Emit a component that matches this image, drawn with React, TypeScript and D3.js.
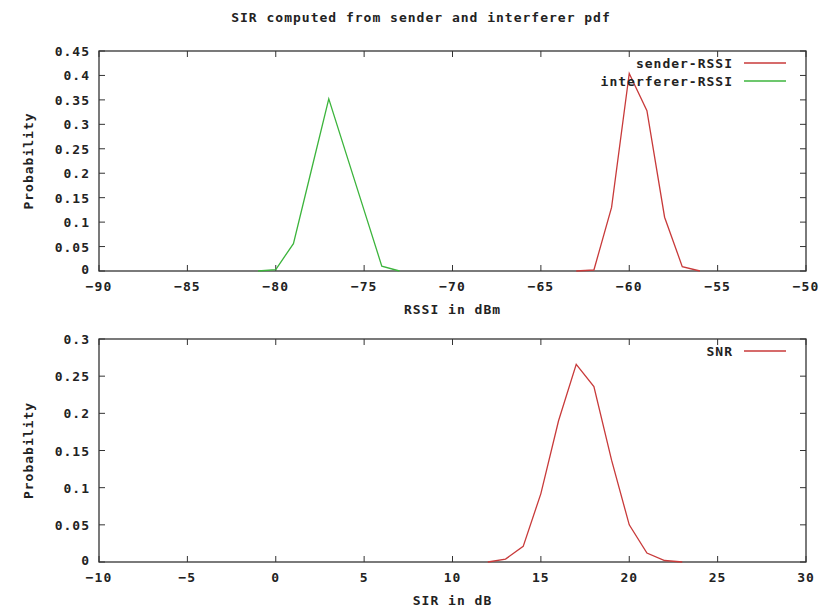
import React, { useRef, useEffect } from 'react'
import * as d3 from 'd3'

// RSSI pdfs (top panel)
const senderRssi = [-63, -62, -61, -60, -59, -58, -57, -56]
const senderProb = [0, 0.002, 0.13, 0.404, 0.328, 0.11, 0.009, 0]
const interfRssi = [-81, -80, -79, -78, -77, -76, -75, -74, -73]
const interfProb = [0, 0.003, 0.056, 0.204, 0.352, 0.238, 0.124, 0.01, 0]

// SIR pdf (bottom panel)
const sirDb = [12, 13, 14, 15, 16, 17, 18, 19, 20, 21, 22, 23]
const sirProb = [0, 0.004, 0.021, 0.092, 0.19, 0.266, 0.236, 0.137, 0.05, 0.012, 0.002, 0]

const rssiTicks = [-90, -85, -80, -75, -70, -65, -60, -55, -50]
const topProbTicks = [0, 0.05, 0.1, 0.15, 0.2, 0.25, 0.3, 0.35, 0.4, 0.45]
const sirTicks = [-10, -5, 0, 5, 10, 15, 20, 25, 30]
const bottomProbTicks = [0, 0.05, 0.1, 0.15, 0.2, 0.25, 0.3]

const RED = '#c83a3a'
const GREEN = '#3cb43c'
const FONT = '"DejaVu Sans Mono", monospace'

export default function App() {
  const ref = useRef<SVGSVGElement>(null)

  useEffect(() => {
    const svg = d3.select(ref.current)
    svg.selectAll('*').remove()

    const txt = (sel: any) =>
      sel
        .attr('font-family', FONT)
        .attr('font-weight', 'bold')
        .attr('font-size', 13)
        .attr('letter-spacing', 1)
        .attr('fill', '#222')

    svg
      .append('text')
      .attr('x', 421)
      .attr('y', 22)
      .attr('text-anchor', 'middle')
      .text('SIR computed from sender and interferer pdf')
      .call(txt)

    const panel = (opts: any) => {
      const { x0, x1, y0, y1, xDomain, yDomain, xTicks, yTicks, xLabel, series } = opts
      const x = d3.scaleLinear().domain(xDomain).range([x0, x1])
      const y = d3.scaleLinear().domain(yDomain).range([y1, y0])
      const g = svg.append('g')

      // ticks on all four sides, pointing inward
      xTicks.forEach((t: number) => {
        g.append('line').attr('x1', x(t)).attr('x2', x(t)).attr('y1', y1).attr('y2', y1 - 6).attr('stroke', '#333')
        g.append('line').attr('x1', x(t)).attr('x2', x(t)).attr('y1', y0).attr('y2', y0 + 6).attr('stroke', '#333')
        g.append('text')
          .attr('x', x(t))
          .attr('y', y1 + 20)
          .attr('text-anchor', 'middle')
          .text(d3.format('d')(t))
          .call(txt)
      })
      yTicks.forEach((t: number) => {
        g.append('line').attr('x1', x0).attr('x2', x0 + 6).attr('y1', y(t)).attr('y2', y(t)).attr('stroke', '#333')
        g.append('line').attr('x1', x1).attr('x2', x1 - 6).attr('y1', y(t)).attr('y2', y(t)).attr('stroke', '#333')
        g.append('text')
          .attr('x', x0 - 9)
          .attr('y', y(t) + (t === 0 ? 3 : 5))
          .attr('text-anchor', 'end')
          .text(String(t))
          .call(txt)
      })

      g.append('rect')
        .attr('x', x0)
        .attr('y', y0)
        .attr('width', x1 - x0)
        .attr('height', y1 - y0)
        .attr('fill', 'none')
        .attr('stroke', '#333')
        .attr('stroke-width', 1.3)

      g.append('text')
        .attr('transform', `translate(33,${(y0 + y1) / 2}) rotate(-90)`)
        .attr('text-anchor', 'middle')
        .text('Probability')
        .call(txt)

      g.append('text')
        .attr('x', (x0 + x1) / 2)
        .attr('y', y1 + 43)
        .attr('text-anchor', 'middle')
        .text(xLabel)
        .call(txt)

      const line = d3
        .line<[number, number]>()
        .x((d) => x(d[0]))
        .y((d) => y(d[1]))

      series.forEach((s: any, i: number) => {
        const pts = s.xs.map((v: number, j: number) => [v, s.ys[j]] as [number, number])
        g.append('path')
          .datum(pts)
          .attr('fill', 'none')
          .attr('stroke', s.color)
          .attr('stroke-width', 1.3)
          .attr('d', line)

        const ly = y0 + 12 + i * 18
        g.append('text')
          .attr('x', 733)
          .attr('y', ly + 5)
          .attr('text-anchor', 'end')
          .text(s.name)
          .call(txt)
        g.append('line')
          .attr('x1', 744)
          .attr('x2', 786)
          .attr('y1', ly)
          .attr('y2', ly)
          .attr('stroke', s.color)
          .attr('stroke-width', 1.3)
      })
    }

    panel({
      x0: 99,
      x1: 806,
      y0: 51,
      y1: 271,
      xDomain: [-90, -50],
      yDomain: [0, 0.45],
      xTicks: rssiTicks,
      yTicks: topProbTicks,
      xLabel: 'RSSI in dBm',
      series: [
        { name: 'sender-RSSI', xs: senderRssi, ys: senderProb, color: RED },
        { name: 'interferer-RSSI', xs: interfRssi, ys: interfProb, color: GREEN },
      ],
    })

    panel({
      x0: 99,
      x1: 806,
      y0: 339,
      y1: 562,
      xDomain: [-10, 30],
      yDomain: [0, 0.3],
      xTicks: sirTicks,
      yTicks: bottomProbTicks,
      xLabel: 'SIR in dB',
      series: [{ name: 'SNR', xs: sirDb, ys: sirProb, color: RED }],
    })
  }, [])

  return (
    <svg
      ref={ref}
      width={831}
      height={613}
      style={{ position: 'absolute', left: 0, top: 0, background: '#fff' }}
    ></svg>
  )
}
